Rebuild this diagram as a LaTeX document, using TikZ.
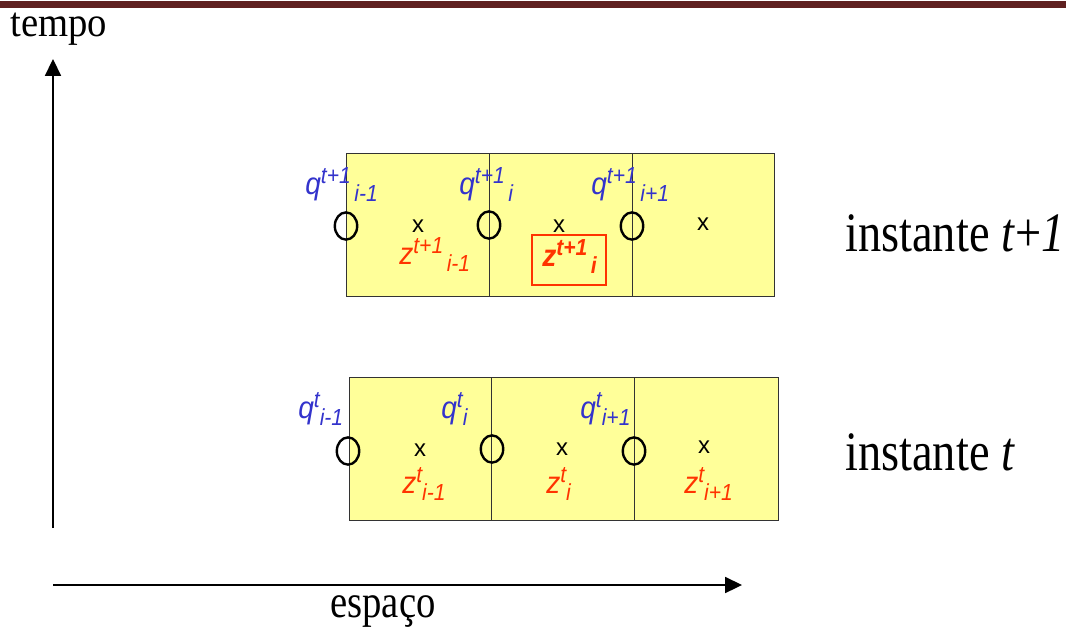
\documentclass[tikz,border=0pt]{standalone}
\usepackage{fontspec}
\setmainfont{Liberation Serif}
\setsansfont{Liberation Sans}
\usetikzlibrary{arrows.meta,shapes.geometric}
\definecolor{cellfill}{HTML}{FFFF99}
\definecolor{qblue}{HTML}{3333CC}
\definecolor{zred}{HTML}{FF3300}
\definecolor{barred}{HTML}{5F2020}
\newcommand{\tallbox}[1]{\scalebox{1}[1.2]{#1}}
\newcommand{\cellvar}[3]{\scalebox{1}[1.1]{{\fontsize{20}{20}\selectfont #1}\raisebox{7pt}{\fontsize{15}{15}\selectfont #2}\raisebox{-5pt}{\fontsize{15}{15}\selectfont #3}}}
\tikzset{cell/.style={draw=black!80, fill=cellfill, line width=.7pt}, face/.style={draw, ellipse, line width=1.7pt, minimum width=.56cm, minimum height=.68cm, inner sep=0pt}, ctr/.style={font=\sffamily\fontsize{17}{17}\selectfont, inner sep=0pt}, qlab/.style={text=qblue, font=\sffamily\itshape, anchor=base west, inner sep=0pt}, zlab/.style={text=zred, font=\sffamily\itshape, anchor=base west, inner sep=0pt}, axis/.style={-{Triangle[length=.42cm,width=.4cm]}, line width=1pt}, word/.style={anchor=base west, inner sep=0pt, font=\fontsize{27.5}{27.5}\selectfont}}

\begin{document}
\begin{tikzpicture}[x=0.025cm, y=-0.025cm]
\useasboundingbox (0,0) rectangle (1075,634);
\fill[barred] (0,1) rectangle (1066,8);
% axes
\coordinate (o) at (53,528); \coordinate (ot) at (53,59);
\coordinate (ox) at (53,585); \coordinate (ex) at (742,585);
\draw[axis] (o) -- (ot); \draw[axis] (ox) -- (ex);
\node[word] (tempo) at (10,36) {\scalebox{1}[1.08]{tempo}};
\node[word] (espaco) at (330,617) {\tallbox{espaço}};
% instante t+1
\draw[cell] (346,153) rectangle (774,296); \draw[cell] (489,153) -- (489,296); \draw[cell] (632,153) -- (632,296);
\node[face] (qa1) at (346,226) {}; \node[face] (qa2) at (489,225) {}; \node[face] (qa3) at (632,226) {};
\node[ctr] (ca1) at (418,226) {x}; \node[ctr] (ca2) at (559,226) {x}; \node[ctr] (ca3) at (703,224) {x};
\node[qlab] (lqa1) at (305,194) {\cellvar{q}{t+1}{\,i-1}};
\node[qlab] (lqa2) at (459,194) {\cellvar{q}{t+1}{\,i}};
\node[qlab] (lqa3) at (591,194) {\cellvar{q}{t+1}{\,i+1}};
\node[zlab] (lza1) at (399,264) {\cellvar{z}{t+1}{\,i-1}};
\draw[zred, line width=1.6pt] (532,235) rectangle (606,285);
\node[zlab, font=\sffamily\itshape\bfseries] (lza2) at (542,266) {\cellvar{z}{t+1}{\,i}};
\node[word, font=\fontsize{33}{33}\selectfont] (inst1) at (845,251) {\tallbox{instante \textit{t}+\textit{1}}};
% instante t
\draw[cell] (349,377) rectangle (778,520); \draw[cell] (491,377) -- (491,520); \draw[cell] (634,377) -- (634,520);
\node[face] (qb1) at (348,451) {}; \node[face] (qb2) at (492,449) {}; \node[face] (qb3) at (634,451) {};
\node[ctr] (cb1) at (420,450) {x}; \node[ctr] (cb2) at (562,449) {x}; \node[ctr] (cb3) at (704,447) {x};
\node[qlab] (lqb1) at (298,418) {\cellvar{q}{t}{i-1}};
\node[qlab] (lqb2) at (441,418) {\cellvar{q}{t}{i}};
\node[qlab] (lqb3) at (580,418) {\cellvar{q}{t}{i+1}};
\node[zlab] (lzb1) at (402,493) {\cellvar{z}{t}{i-1}};
\node[zlab] (lzb2) at (546,493) {\cellvar{z}{t}{i}};
\node[zlab] (lzb3) at (684,493) {\cellvar{z}{t}{i+1}};
\node[word, font=\fontsize{33}{33}\selectfont] (inst0) at (845,470) {\tallbox{instante \textit{t}}};
\end{tikzpicture}
\end{document}
